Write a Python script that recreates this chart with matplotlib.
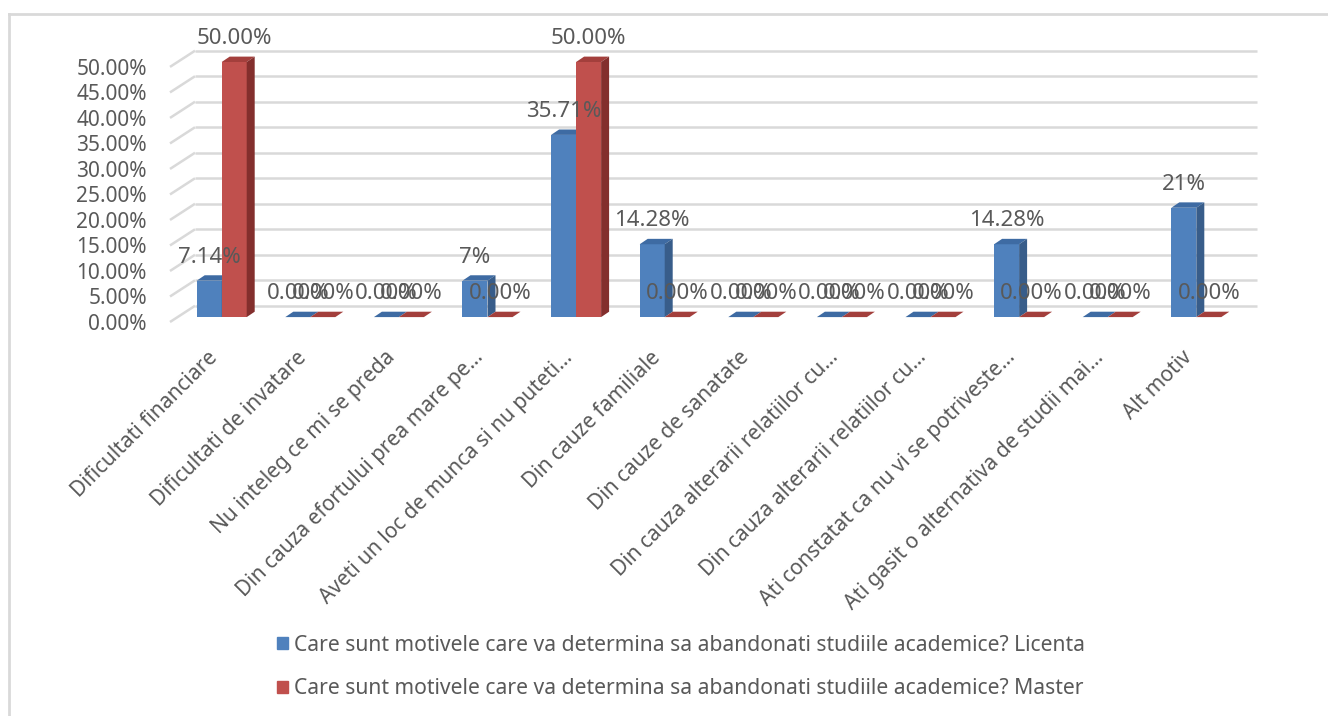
import matplotlib
matplotlib.use("Agg")
import matplotlib.pyplot as plt
from matplotlib.patches import Polygon, Patch
from matplotlib.lines import Line2D
import numpy as np

plt.rcParams['font.family'] = ['Noto Sans', 'DejaVu Sans']

# data
categories = [
    "Dificultati financiare",
    "Dificultati de invatare",
    "Nu inteleg ce mi se preda",
    "Din cauza efortului prea mare pe…",
    "Aveti un loc de munca si nu puteti…",
    "Din cauze familiale",
    "Din cauze de sanatate",
    "Din cauza alterarii relatiilor cu…",
    "Din cauza alterarii relatiilor cu…",
    "Ati constatat ca nu vi se potriveste…",
    "Ati gasit o alternativa de studii mai…",
    "Alt motiv",
]
licenta = [7.14, 0, 0, 7.14, 35.71, 14.28, 0, 0, 0, 14.28, 0, 21.43]
master = [50, 0, 0, 0, 50, 0, 0, 0, 0, 0, 0, 0]
licenta_labels = ["7.14%", "0.00%", "0.00%", "7%", "35.71%", "14.28%",
                  "0.00%", "0.00%", "0.00%", "14.28%", "0.00%", "21%"]
master_labels = ["50.00%", "0.00%", "0.00%", "0.00%", "50.00%", "0.00%",
                 "0.00%", "0.00%", "0.00%", "0.00%", "0.00%", "0.00%"]
yticks = np.arange(0, 55, 5)
series_names = [
    "Care sunt motivele care va determina sa abandonati studiile academice? Licenta",
    "Care sunt motivele care va determina sa abandonati studiile academice? Master",
]

W, H = 1328, 716
TEXT = "#595959"
GRID = "#d9d9d9"
colors = {
    "blue": ("#4F81BD", "#3E6BA3", "#385D8A"),   # front, top, side
    "red": ("#C0504D", "#A33F3C", "#832F2D"),
}

fig = plt.figure(figsize=(W / 100, H / 100), dpi=100)

# axes placed so that the category pitch / value scale match the picture
px_left, px_right = 177.4, 1240.6
px_bottom, px_top = 322, 62
ax = fig.add_axes([px_left / W, (H - px_bottom) / H,
                   (px_right - px_left) / W, (px_bottom - px_top) / H])
ax.set_xlim(-0.5, 11.5)
ax.set_ylim(0, 50)
for s in ax.spines.values():
    s.set_visible(False)

xpx = (px_right - px_left) / 12.0      # pixels per category
ypx = (px_bottom - px_top) / 50.0      # pixels per percent


def dx(p):
    return p / xpx


def dy(p):
    return p / ypx


# 3d-ish gridlines: back wall lines + short diagonal on the side wall
x_front, x_back, x_end = dx(170 - 221.7), dx(195 - 221.7), dx(1257 - 221.7)
for v in yticks:
    yb = v + dy(322 - 310.5)
    yf = v + dy(322 - 327)
    ax.plot([x_back, x_end], [yb, yb], color=GRID, lw=1.8, zorder=1,
            clip_on=False, solid_capstyle="butt")
    ax.plot([x_front, x_back], [yf, yb], color=GRID, lw=1.8, zorder=1,
            clip_on=False, solid_capstyle="butt")

ax.set_yticks(yticks + dy(322 - 327))
ax.set_yticklabels(["%.2f%%" % v for v in yticks], color=TEXT, fontsize=15)
ax.tick_params(axis="y", length=0, pad=22)
ax.set_xticks([])

# bars
x = np.arange(len(categories))
bw = dx(25)
ddx, ddy = dx(8), dy(5.5)
z = 3
for i in x:
    for vals, key, off in ((licenta, "blue", -bw), (master, "red", 0.0)):
        front, top, side = colors[key]
        x0 = i + off
        h = vals[i]
        ax.bar(x0, h, width=bw, align="edge", color=front, lw=0, zorder=z,
               clip_on=False)
        ax.add_patch(Polygon([(x0, h), (x0 + ddx, h + ddy), (x0 + bw + ddx, h + ddy),
                              (x0 + bw, h)], closed=True, color=top, lw=0, zorder=z,
                             clip_on=False))
        if h > 0:
            ax.add_patch(Polygon([(x0 + bw, 0), (x0 + bw + ddx, ddy),
                                  (x0 + bw + ddx, h + ddy), (x0 + bw, h)],
                                 closed=True, color=side, lw=0, zorder=z,
                                 clip_on=False))
        z += 1

# data labels
for i in x:
    for vals, labs, off in ((licenta, licenta_labels, -bw / 2), (master, master_labels, bw / 2)):
        ax.annotate(labs[i], xy=(i + off, vals[i]), xytext=(0, 18 * 0.72),
                    textcoords="offset points", ha="center", va="baseline",
                    color=TEXT, fontsize=16, zorder=50, annotation_clip=False)

# category labels, rotated 45 degrees
for i, c in enumerate(categories):
    ax.text(i - dx(7), -dy(360 - 322), c, rotation=45, rotation_mode="anchor",
            ha="right", va="center", color=TEXT, fontsize=15, clip_on=False)

# legend
handles = [Patch(color=colors["blue"][0]), Patch(color=colors["red"][0])]
fig.legend(handles, series_names, loc="center left",
           bbox_to_anchor=(277 / W, (H - 667) / H), frameon=False,
           fontsize=15.2, labelcolor=TEXT, handlelength=0.5, handleheight=0.5,
           handletextpad=0.3, labelspacing=1.05, borderpad=0, borderaxespad=0)

# chart area border (cut off at right and bottom in the picture)
fig.add_artist(Line2D([9 / W, 9 / W], [0, (H - 14) / H], color=GRID, lw=2))
fig.add_artist(Line2D([9 / W, 1], [(H - 14) / H, (H - 14) / H], color=GRID, lw=2))

fig.savefig("out.png", dpi=100, facecolor="white")
